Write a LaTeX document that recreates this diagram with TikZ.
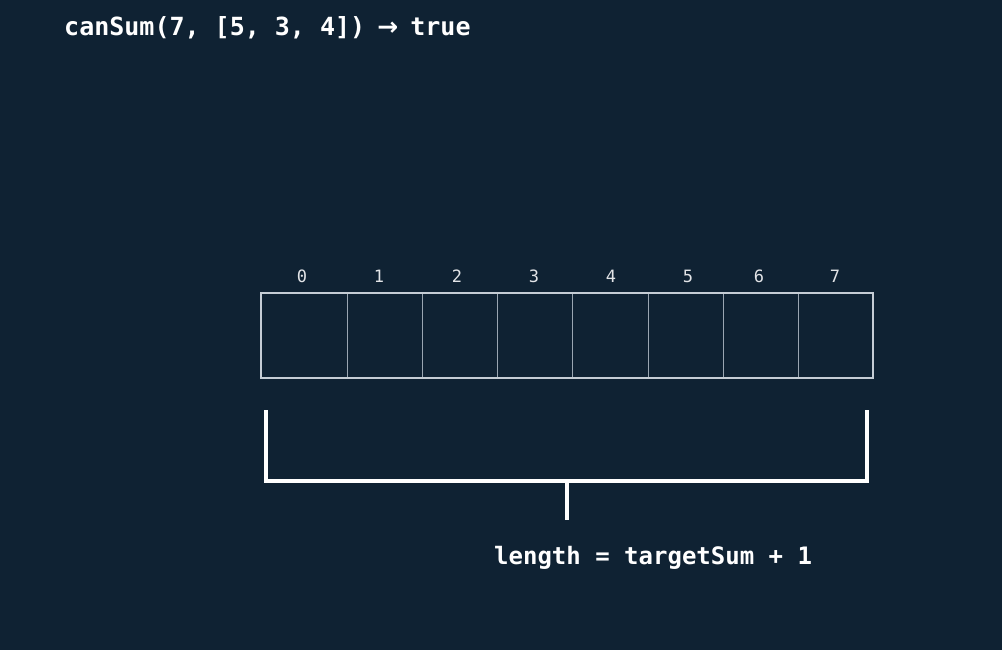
\documentclass[tikz,border=0pt]{standalone}
\usepackage{fontspec}
\setmonofont{DejaVu Sans Mono}
\newfontfamily\arrowfont{DejaVu Sans}
\definecolor{bg}{HTML}{0F2233}
\definecolor{cellline}{HTML}{C5CDD5}
\definecolor{divline}{HTML}{9AA6B2}
\begin{document}
\begin{tikzpicture}[x=1pt,y=-1pt,
  title/.style={text=white,font=\ttfamily\bfseries\fontsize{25}{29}\selectfont,inner sep=0pt},
  label/.style={text=white,font=\ttfamily\bfseries\fontsize{24}{28}\selectfont,inner sep=0pt},
  idx/.style={text=white!88!bg,font=\ttfamily\fontsize{17}{20}\selectfont,inner sep=0pt},
  brk/.style={draw=white,line width=4pt},
]
\fill[bg] (0,0) rectangle (1002,650);
\useasboundingbox (0,0) rectangle (1002,650);
% title
\node[title,anchor=west] (title) at (64,28) {canSum(7, [5, 3, 4]) \makebox[0.602em]{\arrowfont\bfseries →} true};
% array
\coordinate (tl) at (261,293);
\coordinate (br) at (873,378);
\foreach \x in {347,422,497,572,648,723,798}
  \draw[divline,line width=1pt] (\x,293) -- (\x,378);
\draw[cellline,line width=2pt] (tl) rectangle (br);
% indices
\foreach \i/\x in {0/302,1/379,2/457,3/534,4/611,5/688,6/759,7/835}
  \node[idx] (i\i) at (\x,276) {\i};
% bracket
\coordinate (bl1) at (266,410);
\coordinate (bl2) at (266,481);
\coordinate (br2) at (867,481);
\coordinate (br1) at (867,410);
\coordinate (s1) at (567,481);
\coordinate (s2) at (567,520);
\draw[brk,line cap=butt,line join=miter] (bl1) -- (bl2) -- (br2) -- (br1);
\draw[brk] (s1) -- (s2);
\node[label,anchor=west] (len) at (494,558) {length = targetSum + 1};
\end{tikzpicture}
\end{document}
